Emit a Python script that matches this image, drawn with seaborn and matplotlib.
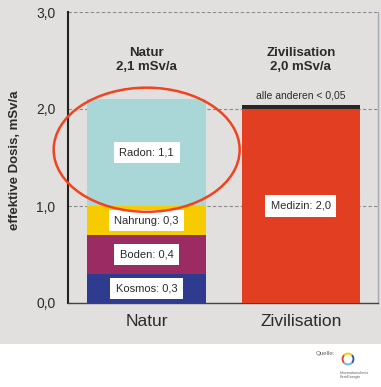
import matplotlib
matplotlib.use("Agg")
import matplotlib.pyplot as plt
import seaborn as sns
import pandas as pd
from matplotlib.patches import Ellipse, Rectangle

# ---- data ----
categories = ["Natur", "Zivilisation"]
natur_segments = ["Kosmos", "Boden", "Nahrung", "Radon"]
natur_values = [0.3, 0.4, 0.3, 1.1]
ziv_segments = ["Medizin", "alle anderen"]
ziv_values = [2.0, 0.04]
segment_labels = {"Kosmos": "Kosmos: 0,3", "Boden": "Boden: 0,4",
                  "Nahrung": "Nahrung: 0,3", "Radon": "Radon: 1,1",
                  "Medizin": "Medizin: 2,0"}
totals_text = ["Natur\n2,1 mSv/a", "Zivilisation\n2,0 mSv/a"]
others_text = "alle anderen < 0,05"
yticks = [0.0, 1.0, 2.0, 3.0]
ytick_labels = ["0,0", "1,0", "2,0", "3,0"]
ylabel = "effektive Dosis, mSv/a"

colors = {"Kosmos": "#2e3b8e", "Boden": "#9a2b63", "Nahrung": "#f6cb00",
          "Radon": "#a9d7d8", "Medizin": "#e23f22", "alle anderen": "#2a2626"}

sns.set_style("white")
plt.rcParams["font.family"] = ["Liberation Sans", "DejaVu Sans"]
TXT = "#2b2b2b"
BG = "#e1e0df"

rows = []
for cat, segs, vals in [("Natur", natur_segments, natur_values),
                        ("Zivilisation", ziv_segments, ziv_values)]:
    bottom = 0.0
    for s, v in zip(segs, vals):
        rows.append({"cat": cat, "seg": s, "bottom": bottom, "top": bottom + v, "value": v})
        bottom += v
df = pd.DataFrame(rows)

fig = plt.figure(figsize=(3.81, 3.87), dpi=100, facecolor="white")
fig.patches.append(Rectangle((0, 1 - 344 / 387), 1, 344 / 387, transform=fig.transFigure,
                             facecolor=BG, edgecolor="none", zorder=-10))
ax = fig.add_axes([68 / 381, 84 / 387, 310 / 381, 291 / 387])
ax.set_facecolor("none")

# stacked bars: draw cumulative tops largest first
for _, r in df.sort_values("top", ascending=False).iterrows():
    sns.barplot(x=[r["cat"]], y=[r["top"]], order=categories, color=colors[r["seg"]],
                saturation=1, width=0.77, errorbar=None, ax=ax, zorder=3,
                edgecolor="none", linewidth=0)

ax.set_xlim(-0.51, 1.49)
ax.set_ylim(0, 3.0)

# segment labels
xpos = {c: i for i, c in enumerate(categories)}
for _, r in df.iterrows():
    if r["seg"] in segment_labels:
        ax.text(xpos[r["cat"]], (r["bottom"] + r["top"]) / 2, segment_labels[r["seg"]],
                ha="center", va="center", fontsize=8, color=TXT, zorder=6,
                bbox=dict(boxstyle="square,pad=0.5", facecolor="white", edgecolor="none"))

for i, t in enumerate(totals_text):
    ax.text(i, 2.505, t, ha="center", va="center", fontsize=9.5, fontweight="bold",
            color=TXT, linespacing=1.25)
ax.text(1, 2.14, others_text, ha="center", va="center", fontsize=7.5, color=TXT)

# red ellipse highlighting Radon
ax.add_patch(Ellipse((0.0, 1.58), 1.206, 1.28, fill=False, edgecolor="#f2421e",
                     linewidth=1.8, clip_on=False, zorder=7))

# axes styling
ax.set_yticks(yticks)
ax.set_yticklabels(ytick_labels, fontsize=10, color=TXT)
ax.yaxis.grid(True, linestyle=(0, (3, 2)), color="#8a8a8a", linewidth=0.8, zorder=1)
ax.tick_params(axis="y", length=5, width=0.8, color="#8a8a8a", pad=4)
ax.set_xticks([0, 1])
ax.set_xticklabels(categories, fontsize=12.5, color=TXT)
ax.tick_params(axis="x", which="major", length=0, pad=8)
ax.set_xticks([-0.5, 0.5, 1.5], minor=True)
ax.tick_params(axis="x", which="minor", length=4, width=1, color="#333333")
ax.set_xlabel("")
ax.set_ylabel("")
ax.text(-0.171, 0.49, ylabel, transform=ax.transAxes, rotation=90, ha="center",
        va="center", fontsize=9.5, fontweight="bold", color=TXT)

ax.spines["top"].set_visible(False)
ax.spines["left"].set_color("#222222")
ax.spines["left"].set_linewidth(1.5)
ax.spines["bottom"].set_color("#444444")
ax.spines["bottom"].set_linewidth(1.0)
ax.spines["right"].set_color("#a9a9b6")
ax.spines["right"].set_linewidth(1.0)

# source logo
fig.text(316 / 381, 1 - 353 / 387, "Quelle:", fontsize=4.5, color="#666666", va="center")
lax = fig.add_axes([340 / 381, 1 - 367 / 387, 16 / 381, 16 / 387])
lax.pie([1, 1, 1, 1], colors=["#f6cb00", "#e8452c", "#6fb7e0", "#2e5aa8"], startangle=45,
        wedgeprops=dict(width=0.3, edgecolor="none"))
lax.set_aspect("equal")
lax.axis("off")
fig.text(340 / 381, 1 - 375 / 387, "Informationskreis\nKernEnergie", fontsize=2.8,
         color="#666666", va="center", linespacing=1.1)

fig.savefig("out.png", dpi=100, facecolor="white")
